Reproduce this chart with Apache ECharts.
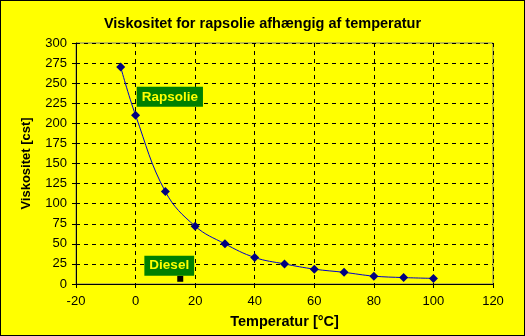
<!DOCTYPE html>
<html><head><meta charset="utf-8">
<script src="https://cdn.jsdelivr.net/npm/echarts@6/dist/echarts.min.js"></script>
<style>html,body{margin:0;padding:0;background:#ffff00}#c{width:525px;height:336px;box-sizing:border-box;border:1px solid #000}</style>
</head><body><div id="c"></div>
<script>
const temperatures = [-5, 0, 10, 20, 30, 40, 50, 60, 70, 80, 90, 100];
const viscosity = [270, 210, 115, 72, 50, 33, 25, 18.5, 14.5, 9.8, 8, 7];
const dieselPoint = [15, 6.5];
const rapsolieLabelAt = [11.5, 233];
const xTicks = {min: -20, max: 120, interval: 20};
const yTicks = {min: 0, max: 300, interval: 25};

const chart = echarts.init(document.getElementById('c'));
const font = 'Liberation Sans, Arial, sans-serif';
chart.setOption({
  backgroundColor: '#ffff00',
  animation: false,
  title: {text: 'Viskositet for rapsolie afhængig af temperatur', left: 'center', top: 10,
    textStyle: {fontFamily: font, fontSize: 14.5, fontWeight: 'bold', color: '#000'}},
  grid: {left: 75, right: 31, top: 42, bottom: 51, show: true, borderColor: '#808080', borderWidth: 1, backgroundColor: 'transparent'},
  xAxis: {type: 'value', min: xTicks.min, max: xTicks.max, interval: xTicks.interval,
    name: 'Temperatur [°C]', nameLocation: 'middle', nameGap: 30,
    nameTextStyle: {fontFamily: font, fontSize: 14.5, fontWeight: 'bold', color: '#000'},
    axisLine: {show: true, onZero: false, lineStyle: {color: '#000', width: 1}},
    axisTick: {show: true, length: 4, lineStyle: {color: '#000'}},
    axisLabel: {fontFamily: font, fontSize: 13, color: '#000', margin: 11},
    splitLine: {show: true, lineStyle: {color: '#000', type: [4, 4], width: 1}}},
  yAxis: {type: 'value', min: yTicks.min, max: yTicks.max, interval: yTicks.interval,
    name: 'Viskositet [cst]', nameLocation: 'middle', nameGap: 43, nameRotate: 90,
    nameTextStyle: {fontFamily: font, fontSize: 13, fontWeight: 'bold', color: '#000'},
    axisLine: {show: true, onZero: false, lineStyle: {color: '#000', width: 1}},
    axisTick: {show: true, length: 4, lineStyle: {color: '#000'}},
    axisLabel: {fontFamily: font, fontSize: 13, color: '#000', margin: 9},
    splitLine: {show: true, lineStyle: {color: '#000', type: [4, 4], width: 1}}},
  series: [
    {type: 'line', data: temperatures.map((t, i) => [t, viscosity[i]]), smooth: 0.4,
     symbol: 'diamond', symbolSize: 9, itemStyle: {color: '#000080'}, lineStyle: {color: '#0000cc', width: 1},
     markPoint: {symbol: 'rect', symbolSize: 0, data: [{coord: rapsolieLabelAt}],
       label: {show: true, formatter: 'Rapsolie', fontFamily: font, fontSize: 13.5, fontWeight: 'bold', color: '#ffff00',
         backgroundColor: '#008000', padding: [3, 5, 3, 5], position: 'inside'}}},
    {type: 'scatter', data: [dieselPoint], symbol: 'rect', symbolSize: 6, itemStyle: {color: '#000', opacity: 1},
     label: {show: true, formatter: 'Diesel', position: 'top', offset: [-11, 5], fontFamily: font, fontSize: 13.5, fontWeight: 'bold',
       color: '#ffff00', backgroundColor: '#008000', padding: [3, 5, 3, 5], opacity: 1}}
  ]
});
</script></body></html>
